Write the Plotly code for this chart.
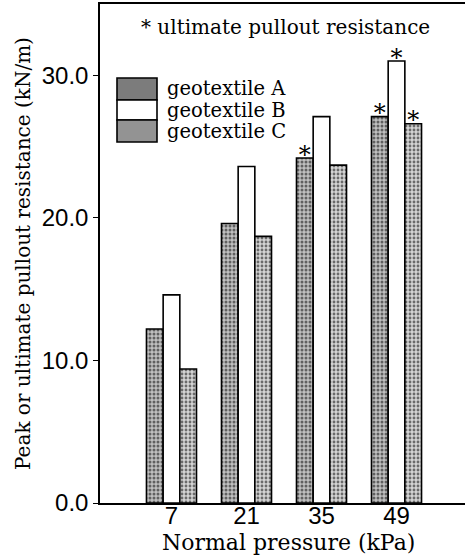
import plotly.graph_objects as go

categories = ["7", "21", "35", "49"]
geo_a = [12.2, 19.6, 24.2, 27.1]
geo_b = [14.6, 23.6, 27.1, 31.0]
geo_c = [9.4, 18.7, 23.7, 26.6]
mark_a = ["", "", "*", "*"]
mark_b = ["", "", "", "*"]
mark_c = ["", "", "", "*"]
y_ticks = [0, 10, 20, 30]
y_tick_labels = ["0.0", "10.0", "20.0", "30.0"]

serif = "DejaVu Serif, serif"
sans = "Liberation Sans, Arial, sans-serif"
star_lift = 0.1  # data units between a bar top and its asterisk

fig = go.Figure()

def add(name, grp, vals, marks, pattern):
    fig.add_trace(go.Bar(
        name=name, x=categories, y=vals, offsetgroup=grp,
        marker=dict(color="white", line=dict(color="black", width=1.6),
                    pattern=pattern),
        showlegend=False,
    ))
    fig.add_trace(go.Scatter(
        name=name + " ultimate", x=categories, y=[v + star_lift for v in vals], offsetgroup=grp,
        mode="text", text=marks, textposition="middle center", cliponaxis=False,
        textfont=dict(family=serif, size=24, color="black"),
        showlegend=False, hoverinfo="skip",
    ))

add("geotextile A", "A", geo_a, mark_a, dict(shape=".", fgcolor="black", bgcolor="#c0c0c0", size=4, solidity=0.45))
add("geotextile B", "B", geo_b, mark_b, dict(shape=""))
add("geotextile C", "C", geo_c, mark_c, dict(shape=".", fgcolor="black", bgcolor="#d4d4d4", size=4, solidity=0.4))

# legend swatches and labels
legend_rows = [("geotextile A", "#7c7c7c", 78, 100), ("geotextile B", "white", 100, 120), ("geotextile C", "#939393", 120, 142)]
for label, col, y0, y1 in legend_rows:
    fig.add_shape(type="rect", xref="paper", yref="paper",
                  x0=(117-100)/365, x1=(157-100)/365,
                  y0=(503-y1)/499, y1=(503-y0)/499,
                  fillcolor=col, line=dict(color="black", width=1.6))
    fig.add_annotation(xref="paper", yref="paper", x=(165-100)/365, y=(503-(y0+y1)/2)/499,
                       text=label, showarrow=False, xanchor="left", yanchor="middle",
                       font=dict(family=serif, size=19.5, color="black"))

fig.add_annotation(xref="paper", yref="paper", x=(285-100)/365, y=(503-27)/499,
                   text="* ultimate pullout resistance", showarrow=False,
                   xanchor="center", yanchor="middle",
                   font=dict(family=serif, size=20, color="black"))

fig.add_annotation(xref="paper", yref="paper", x=(288-100)/365, y=(503-542)/499,
                   text="Normal pressure (kPa)", showarrow=False,
                   xanchor="center", yanchor="middle",
                   font=dict(family=serif, size=22, color="black"))

fig.update_layout(
    width=465, height=556,
    margin=dict(l=100, r=0, t=4, b=53),
    paper_bgcolor="white", plot_bgcolor="white",
    barmode="group", bargap=0.333, bargroupgap=0,
    scattermode="group", scattergap=0.333,
    xaxis=dict(type="category", range=[-0.953, 3.913], showline=True, mirror=True,
               linecolor="black", linewidth=1.5, ticks="", showgrid=False,
               ticklabelstandoff=-10,
               tickfont=dict(family=sans, size=24, color="black")),
    yaxis=dict(range=[0, 35], showline=True, linecolor="black", linewidth=1.5,
               ticks="outside", ticklen=5, tickcolor="black", showgrid=False, zeroline=False,
               tickvals=y_ticks, ticktext=y_tick_labels,
               tickfont=dict(family=sans, size=24, color="black"),
               title=dict(text="Peak or ultimate pullout resistance (kN/m)", font=dict(family=serif, size=20, color="black"), standoff=6)),
)

fig.write_html("out.html", config={"displayModeBar": False},
               post_script="document.body.style.margin='0';document.body.style.padding='0';")
